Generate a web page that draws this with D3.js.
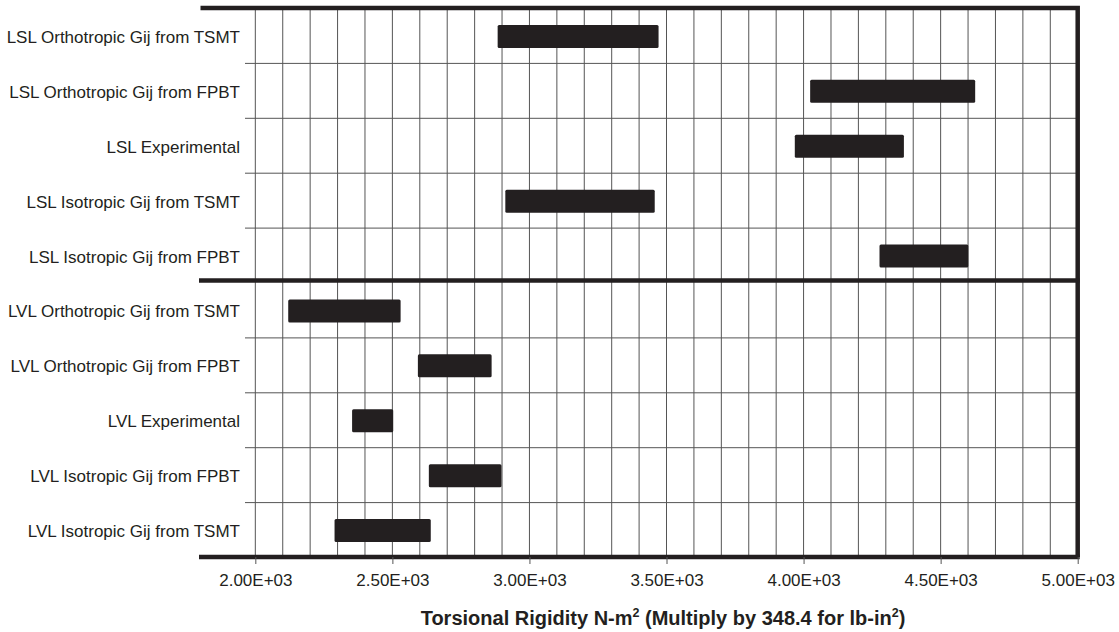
<!DOCTYPE html>
<html>
<head>
<meta charset="utf-8">
<script src="https://cdn.jsdelivr.net/npm/d3@7"></script>
<style>
  html, body { margin: 0; padding: 0; background: #fff; }
  svg { display: block; }
  text { font-family: "Liberation Sans", Arial, sans-serif; fill: #231f20; }
</style>
</head>
<body>
<svg id="chart" width="1119" height="632"></svg>
<script>
// ---- data ----
const categories = [
  "LSL Orthotropic Gij from TSMT",
  "LSL Orthotropic Gij from FPBT",
  "LSL Experimental",
  "LSL Isotropic Gij from TSMT",
  "LSL Isotropic Gij from FPBT",
  "LVL Orthotropic Gij from TSMT",
  "LVL Orthotropic Gij from FPBT",
  "LVL Experimental",
  "LVL Isotropic Gij from FPBT",
  "LVL Isotropic Gij from TSMT"
];
const lowValues  = [2884, 4024, 3968, 2912, 4277, 2120, 2593, 2353, 2633, 2289];
const highValues = [3471, 4626, 4366, 3457, 4601, 2530, 2862, 2503, 2898, 2640];
const tickValues = [2000, 2500, 3000, 3500, 4000, 4500, 5000];
const tickLabels = ["2.00E+03", "2.50E+03", "3.00E+03", "3.50E+03", "4.00E+03", "4.50E+03", "5.00E+03"];
const gridValues = d3.range(2000, 5000, 100);
const groupBreakAfter = "LSL Isotropic Gij from FPBT";

// ---- layout ----
const svg = d3.select("#chart");
const plotLeft = 200.5, plotRight = 1077.7, plotTop = 8, plotBottom = 557;

const x = d3.scaleLinear().domain([1800, 5000]).range([plotLeft, plotRight]);
const y = d3.scaleBand().domain(categories).range([plotTop, plotBottom]).paddingInner(0).paddingOuter(0);

const ink = "#231f20";

// vertical grid lines
svg.append("g").selectAll("line").data(gridValues).join("line")
  .attr("x1", d => x(d)).attr("x2", d => x(d))
  .attr("y1", plotTop).attr("y2", plotBottom)
  .attr("stroke", "#555").attr("stroke-width", 1);

// horizontal separators
const seps = categories.slice(1).filter(c => categories[categories.indexOf(c) - 1] !== groupBreakAfter);
svg.append("g").selectAll("line").data(seps).join("line")
  .attr("x1", 245).attr("x2", plotRight)
  .attr("y1", d => y(d) + 0.5).attr("y2", d => y(d) + 0.5)
  .attr("stroke", "#555").attr("stroke-width", 1);

// bars
const barH = 23;
svg.append("g").selectAll("rect").data(categories).join("rect")
  .attr("x", (d, i) => x(lowValues[i]))
  .attr("width", (d, i) => x(highValues[i]) - x(lowValues[i]))
  .attr("y", d => y(d) + y.bandwidth() / 2 - barH / 2 + 1)
  .attr("height", barH)
  .attr("rx", 1.5)
  .attr("fill", ink);

// thick frame lines
const breakY = y(categories[categories.indexOf(groupBreakAfter) + 1]) - 2;
const frame = svg.append("g").attr("stroke", ink).attr("stroke-width", 4.5).attr("fill", "none");
frame.append("path")
  .attr("d", `M${plotLeft},${plotTop} H${plotRight} V${plotBottom}`)
  .attr("stroke-linejoin", "miter");
frame.append("line").attr("x1", 199).attr("x2", plotRight + 2).attr("y1", breakY).attr("y2", breakY);
frame.append("line").attr("x1", 199).attr("x2", plotRight + 2).attr("y1", plotBottom).attr("y2", plotBottom);

// category labels
svg.append("g").selectAll("text").data(categories).join("text")
  .attr("x", 240)
  .attr("y", d => y(d) + y.bandwidth() / 2 + 3)
  .attr("text-anchor", "end")
  .attr("dominant-baseline", "middle")
  .style("font-size", "17px")
  .text(d => d);

// x axis
const xAxis = d3.axisBottom(x)
  .tickValues(tickValues)
  .tickFormat((d, i) => tickLabels[i])
  .tickSize(7)
  .tickPadding(10);
const ax = svg.append("g").attr("transform", `translate(0,${plotBottom})`).call(xAxis);
ax.select(".domain").remove();
ax.selectAll(".tick line").attr("stroke", "#555");
ax.selectAll(".tick text")
  .attr("fill", ink)
  .style("font-size", "17px")
  .style("font-family", '"Liberation Sans", Arial, sans-serif');

// axis title
const title = svg.append("text")
  .attr("x", 663)
  .attr("y", 624.5)
  .attr("text-anchor", "middle")
  .style("font-size", "20px")
  .style("font-weight", "bold");
title.append("tspan").text("Torsional Rigidity N-m");
title.append("tspan").attr("dy", -8).style("font-size", "12.5px").text("2");
title.append("tspan").attr("dy", 8).text(" (Multiply by 348.4 for lb-in");
title.append("tspan").attr("dy", -8).style("font-size", "12.5px").text("2");
title.append("tspan").attr("dy", 8).text(")");
</script>
</body>
</html>
